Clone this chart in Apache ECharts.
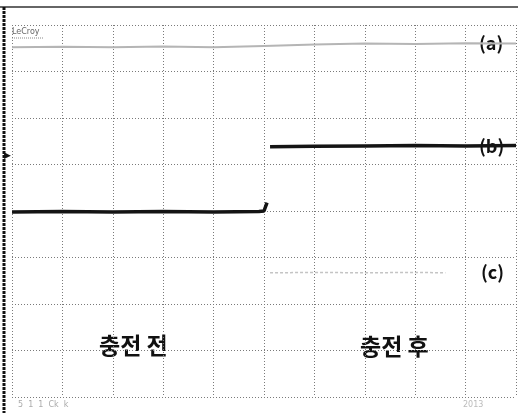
<!DOCTYPE html>
<html>
<head>
<meta charset="utf-8">
<script src="https://cdn.jsdelivr.net/npm/echarts@6/dist/echarts.min.js"></script>
<style>
  html, body { margin: 0; padding: 0; background: #fff; }
  #chart { width: 518px; height: 413px; }
</style>
</head>
<body>
<div id="chart"></div>
<script>
// 시간축 (div 단위 0~10), 전압축 (div 단위 0~8)
var timeA = [0, 1, 2, 3, 4, 5, 6, 7, 8, 9, 10];
var traceA = [7.52, 7.53, 7.52, 7.54, 7.52, 7.55, 7.58, 7.6, 7.59, 7.61, 7.6];

var timeB = [0, 1, 2, 3, 4, 4.9, 5.0, 5.06, 5.08, 5.12, 6, 7, 8, 9, 10];
var traceB = [3.98, 3.99, 3.98, 3.99, 3.98, 3.99, 4.0, 4.18, null, 5.38, 5.39, 5.4, 5.41, 5.4, 5.41];

var timeC = [5.12, 6, 7, 8, 8.6];
var traceC = [2.67, 2.68, 2.67, 2.68, 2.67];

var labelA = '(a)';
var labelB = '(b)';
var labelC = '(c)';
var before = '충전 전';
var after = '충전 후';

function pairs(xs, ys) {
    var out = [];
    for (var i = 0; i < xs.length; i++) {
        out.push(ys[i] === null ? [xs[i], null] : [xs[i], ys[i]]);
    }
    return out;
}

var myChart = echarts.init(document.getElementById('chart'), null, { renderer: 'canvas' });

var gridLine = {
    show: true,
    lineStyle: { color: '#7a7a7a', type: [1, 2], width: 1 }
};

var option = {
    animation: false,
    backgroundColor: '#fff',
    grid: { left: 12, right: 2, top: 25, bottom: 16 },
    xAxis: {
        type: 'value',
        min: 0,
        max: 10,
        interval: 1,
        axisLine: { show: false },
        axisTick: { show: false },
        axisLabel: { show: false },
        splitLine: gridLine
    },
    yAxis: {
        type: 'value',
        min: 0,
        max: 8,
        interval: 1,
        axisLine: { show: false },
        axisTick: { show: false },
        axisLabel: { show: false },
        splitLine: gridLine
    },
    series: [
        {
            name: 'a',
            type: 'line',
            data: pairs(timeA, traceA),
            symbol: 'none',
            lineStyle: { color: '#b5b5b5', width: 2 }
        },
        {
            name: 'b',
            type: 'line',
            data: pairs(timeB, traceB),
            symbol: 'none',
            connectNulls: false,
            lineStyle: { color: '#141414', width: 3.5 }
        },
        {
            name: 'c',
            type: 'line',
            data: pairs(timeC, traceC),
            symbol: 'none',
            lineStyle: { color: '#c4c4c4', width: 1.5, type: [3, 2] }
        }
    ],
    graphic: [
        // 화면 테두리
        { type: 'line', shape: { x1: 0, y1: 7, x2: 518, y2: 7 }, style: { stroke: '#333', lineWidth: 1.5 } },
        { type: 'line', shape: { x1: 4, y1: 7, x2: 4, y2: 413 }, style: { stroke: '#111', lineWidth: 3, lineDash: [3, 1] } },
        { type: 'text', left: 4, top: 151, style: { text: '▶', font: '9px "DejaVu Sans"', fill: '#111' } },
        { type: 'text', left: 12, top: 28, style: { text: 'LeCroy', font: '8px "DejaVu Sans"', fill: '#666' } },
        { type: 'line', shape: { x1: 12, y1: 38, x2: 44, y2: 38 }, style: { stroke: '#888', lineWidth: 1, lineDash: [1, 1] } },
        { type: 'text', left: 18, top: 401, style: { text: '5  1  1  Ck  k', font: '8px "DejaVu Sans"', fill: '#aaa' } },
        { type: 'text', left: 463, top: 401, style: { text: '2013', font: '8px "DejaVu Sans"', fill: '#bbb' } },
        // 라벨
        { type: 'text', left: 479, top: 34, style: { text: labelA, font: 'bold 18px "Noto Sans CJK KR"', fill: '#111' } },
        { type: 'text', left: 479, top: 137, style: { text: labelB, font: 'bold 18px "Noto Sans CJK KR"', fill: '#111' } },
        { type: 'text', left: 481, top: 263, style: { text: labelC, font: 'bold 18px "Noto Sans CJK KR"', fill: '#111' } },
        { type: 'text', left: 99, top: 334, style: { text: before, font: 'bold 23px "Noto Sans CJK KR"', fill: '#111' } },
        { type: 'text', left: 360, top: 335, style: { text: after, font: 'bold 23px "Noto Sans CJK KR"', fill: '#111' } }
    ]
};

myChart.setOption(option);
</script>
</body>
</html>
